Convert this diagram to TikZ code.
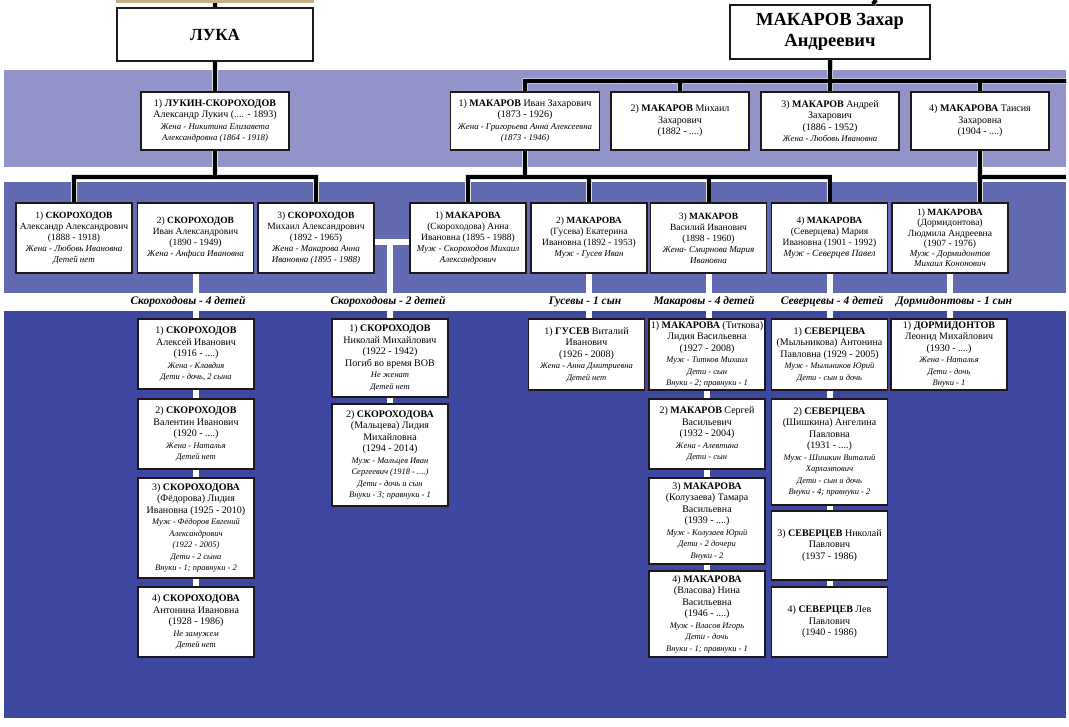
\documentclass[tikz,border=0pt]{standalone}
\usepackage{fontspec}
\setmainfont{Liberation Serif}
\definecolor{bandA}{RGB}{145,147,201}
\definecolor{bandB}{RGB}{98,106,178}
\definecolor{bandC}{RGB}{62,72,160}
\definecolor{edge}{RGB}{30,24,24}
\definecolor{photo}{RGB}{196,176,132}
\newcommand{\isize}{8}
\newcommand{\inote}[1]{{\fontsize{\isize}{\isize}\selectfont\itshape #1}}

\begin{document}
\begin{tikzpicture}[x=1pt,y=-1pt,
    pbox/.style={draw=edge, fill=white, line width=1.8pt, align=center, inner sep=1pt},
    head/.style={pbox, font=\fontsize{18.5}{21}\selectfont\bfseries},
    gen1/.style={pbox, minimum height=58, font=\fontsize{10}{11.5}\selectfont\def\isize{8.8}},
    gen2/.style={pbox, minimum width=116, minimum height=70, font=\fontsize{9.5}{11}\selectfont\def\isize{9}},
    gen3/.style={pbox, minimum width=116, font=\fontsize{10}{11.5}\selectfont\def\isize{8.5}},
    bus/.style={black, line width=4pt, preaction={draw=white!75!gray, line width=5.5pt}},
    wline/.style={white, line width=6pt},
    grp/.style={font=\fontsize{11.5}{13}\selectfont\bfseries\itshape}]
    \useasboundingbox (0,0) rectangle (1069,727);
    % bands
    \fill[bandA] (4,70) rectangle (1066,167);
    \fill[bandB] (4,182) rectangle (1066,293);
    \fill[bandC] (4,311) rectangle (1066,718);
    \fill[photo] (116,0) rectangle (314,3);

    % founders
    \node[head, minimum width=196, minimum height=53, font=\fontsize{17}{21}\selectfont\bfseries] (luka) at (215,34.5) {ЛУКА};
    \node[head, minimum width=200, minimum height=54] (zahar) at (830,32) {МАКАРОВ Захар\\Андреевич};
    \coordinate (photoB) at (215,3);
    \coordinate (ztop) at (876,0);

    % generation 1
    \node[gen1, minimum width=148] (lukin) at (215,121) {1) \textbf{ЛУКИН-СКОРОХОДОВ}\\Александр Лукич (.... - 1893)\\\inote{Жена - Никитина Елизавета}\\\inote{Александровна (1864 - 1918)}};
    \node[gen1, minimum width=149] (ivan) at (525,121) {1) \textbf{МАКАРОВ} Иван Захарович\\(1873 - 1926)\\\inote{Жена - Григорьева Анна Алексеевна}\\\inote{(1873 - 1946)}};
    \node[gen1, minimum width=138] (mihail) at (680,121) {2) \textbf{МАКАРОВ} Михаил\\Захарович\\(1882 - ....)};
    \node[gen1, minimum width=138] (andrey) at (830,121) {3) \textbf{МАКАРОВ} Андрей\\Захарович\\(1886 - 1952)\\\inote{Жена - Любовь Ивановна}};
    \node[gen1, minimum width=138] (taisia) at (980,121) {4) \textbf{МАКАРОВА} Таисия\\Захаровна\\(1904 - ....)};

    % generation 2
    \node[gen2] (s1) at (74,238) {1) \textbf{СКОРОХОДОВ}\\Александр Александрович\\(1888 - 1918)\\\inote{Жена - Любовь Ивановна}\\\inote{Детей нет}};
    \node[gen2] (s2) at (195.5,238) {2) \textbf{СКОРОХОДОВ}\\Иван Александрович\\(1890 - 1949)\\\inote{Жена - Анфиса Ивановна}};
    \node[gen2] (s3) at (316,238) {3) \textbf{СКОРОХОДОВ}\\Михаил Александрович\\(1892 - 1965)\\\inote{Жена - Макарова Анна}\\\inote{Ивановна (1895 - 1988)}};
    \node[gen2] (anna) at (468,238) {1) \textbf{МАКАРОВА}\\(Скороходова) Анна\\Ивановна (1895 - 1988)\\\inote{Муж - Скороходов Михаил}\\\inote{Александрович}};
    \node[gen2] (ekat) at (589,238) {2) \textbf{МАКАРОВА}\\(Гусева) Екатерина\\Ивановна (1892 - 1953)\\\inote{Муж - Гусев Иван}};
    \node[gen2] (vasil) at (708.5,238) {3) \textbf{МАКАРОВ}\\Василий Иванович\\(1898 - 1960)\\\inote{Жена- Смирнова Мария}\\\inote{Ивановна}};
    \node[gen2] (maria) at (829.5,238) {4) \textbf{МАКАРОВА}\\(Северцева) Мария\\Ивановна (1901 - 1992)\\\textit{Муж - Северцев Павел}};
    \node[gen2] (lyud) at (950,238) {1) \textbf{МАКАРОВА}\\[-0.7pt](Дормидонтова)\\[-0.7pt]Людмила Андреевна\\[-0.7pt](1907 - 1976)\\[-0.7pt]\inote{Муж - Дормидонтов}\\[-0.7pt]\inote{Михаил Кононович}};
    \coordinate (redgeA) at (1066,81);
    \coordinate (redgeB) at (1066,177);
    \coordinate (mar) at (390,242);

    % generation 3
    \node[gen3, minimum height=70] (aleksey) at (196,354) {1) \textbf{СКОРОХОДОВ}\\Алексей Иванович\\(1916 - ....)\\\inote{Жена - Клавдия}\\\inote{Дети - дочь, 2 сына}};
    \node[gen3, minimum height=70] (valent) at (196,434) {2) \textbf{СКОРОХОДОВ}\\Валентин Иванович\\(1920 - ....)\\\inote{Жена - Наталья}\\\inote{Детей нет}};
    \node[gen3, minimum height=100] (lidiaF) at (196,528) {3) \textbf{СКОРОХОДОВА}\\(Фёдорова) Лидия\\Ивановна (1925 - 2010)\\\inote{Муж - Фёдоров Евгений}\\\inote{Александрович}\\\inote{(1922 - 2005)}\\\inote{Дети - 2 сына}\\\inote{Внуки - 1; правнуки - 2}};
    \node[gen3, minimum height=70] (antonina) at (196,622) {4) \textbf{СКОРОХОДОВА}\\Антонина Ивановна\\(1928 - 1986)\\\inote{Не замужем}\\\inote{Детей нет}};

    \node[gen3, minimum height=78] (nikolay) at (390,358) {1) \textbf{СКОРОХОДОВ}\\Николай Михайлович\\(1922 - 1942)\\Погиб во время ВОВ\\\inote{Не женат}\\\inote{Детей нет}};
    \node[gen3, minimum height=102] (lidiaM) at (390,455) {2) \textbf{СКОРОХОДОВА}\\(Мальцева) Лидия\\Михайловна\\(1294 - 2014)\\\inote{Муж - Мальцев Иван}\\\inote{Сергеевич (1918 - ....)}\\\inote{Дети - дочь и сын}\\\inote{Внуки - 3; правнуки - 1}};

    \node[gen3, minimum height=71] (gusev) at (586.5,354.5) {1) \textbf{ГУСЕВ} Виталий\\Иванович\\(1926 - 2008)\\\inote{Жена - Анна Дмитриевна}\\\inote{Детей нет}};

    \node[gen3, minimum height=71] (lidiaT) at (707,354.5) {1) \textbf{МАКАРОВА} (Титкова)\\Лидия Васильевна\\(1927 - 2008)\\\inote{Муж - Титков Михаил}\\\inote{Дети - сын}\\\inote{Внуки - 2; правнуки - 1}};
    \node[gen3, minimum height=70] (sergey) at (707,434) {2) \textbf{МАКАРОВ} Сергей\\Васильевич\\(1932 - 2004)\\\inote{Жена - Алевтина}\\\inote{Дети - сын}};
    \node[gen3, minimum height=86] (tamara) at (707,521) {3) \textbf{МАКАРОВА}\\(Колузаева) Тамара\\Васильевна\\(1939 - ....)\\\inote{Муж - Колузаев Юрий}\\\inote{Дети - 2 дочери}\\\inote{Внуки - 2}};
    \node[gen3, minimum height=86] (nina) at (707,614) {4) \textbf{МАКАРОВА}\\(Власова) Нина\\Васильевна\\(1946 - ....)\\\inote{Муж - Власов Игорь}\\\inote{Дети - дочь}\\\inote{Внуки - 1; правнуки - 1}};

    \node[gen3, minimum height=71] (antoninaS) at (829.5,354.5) {1) \textbf{СЕВЕРЦЕВА}\\(Мыльникова) Антонина\\Павловна (1929 - 2005)\\\inote{Муж - Мыльников Юрий}\\\inote{Дети - сын и дочь}};
    \node[gen3, minimum height=106] (angelina) at (829.5,452) {2) \textbf{СЕВЕРЦЕВА}\\(Шишкина) Ангелина\\Павловна\\(1931 - ....)\\\inote{Муж - Шишкин Виталий}\\\inote{Харлампович}\\\inote{Дети - сын и дочь}\\\inote{Внуки - 4; правнуки - 2}};
    \node[gen3, minimum height=69] (nikolayS) at (829.5,545.5) {3) \textbf{СЕВЕРЦЕВ} Николай\\Павлович\\(1937 - 1986)};
    \node[gen3, minimum height=70] (lev) at (829.5,622) {4) \textbf{СЕВЕРЦЕВ} Лев\\Павлович\\(1940 - 1986)};

    \node[gen3, minimum height=71] (leonid) at (949,354.5) {1) \textbf{ДОРМИДОНТОВ}\\Леонид Михайлович\\(1930 - ....)\\\inote{Жена - Наталья}\\\inote{Дети - дочь}\\\inote{Внуки - 1}};

    % black lines
    \draw[bus] (photoB) -- (luka.north); \draw[bus] (ztop) -- ([xshift=43]zahar.north);
    \draw[bus] (luka.south) -- (lukin.north);
    \draw[bus] (lukin.south) -- ++(0,26) coordinate (lb) (s1.north) |- (lb) -| (s3.north);
    \draw[bus] (zahar.south) -- (andrey.north) (ivan.north) -- ++(0,-10) coordinate (zb) -- (redgeA) (mihail.north) -- (mihail.north |- zb) (taisia.north) -- (taisia.north |- zb);
    \draw[bus] (ivan.south) -- ++(0,26) coordinate (ib) (anna.north) |- (ib) -| (maria.north) (ekat.north) -- (ekat.north |- ib) (vasil.north) -- (vasil.north |- ib);
    \draw[bus] (taisia.south) -- (taisia.south |- lyud.north) (taisia.south |- redgeB) -- (redgeB);

    % white lines
    \draw[wline] (s2.south) -- (s2.south |- aleksey.north);
    \draw[wline] (s3.east |- mar) -- (anna.west |- mar) (mar) -- (nikolay.north);
    \draw[wline] (ekat.south) -- (ekat.south |- gusev.north); \draw[wline] (vasil.south) -- (vasil.south |- lidiaT.north);
    \draw[wline] (maria.south) -- (maria.south |- antoninaS.north); \draw[wline] (lyud.south) -- (lyud.south |- leonid.north);
    \draw[wline] (aleksey.south) -- (valent.north); \draw[wline] (valent.south) -- (lidiaF.north); \draw[wline] (lidiaF.south) -- (antonina.north);
    \draw[wline] (nikolay.south) -- (lidiaM.north);
    \draw[wline] (lidiaT.south) -- (sergey.north); \draw[wline] (sergey.south) -- (tamara.north); \draw[wline] (tamara.south) -- (nina.north);
    \draw[wline] (antoninaS.south) -- (angelina.north); \draw[wline] (angelina.south) -- (nikolayS.north); \draw[wline] (nikolayS.south) -- (lev.north);

    % family labels
    \node[grp] (gS4) at (188,302) {Скороходовы - 4 детей};
    \node[grp] (gS2) at (388,302) {Скороходовы - 2 детей};
    \node[grp] (gG) at (585,302) {Гусевы - 1 сын};
    \node[grp] (gM) at (704,302) {Макаровы - 4 детей};
    \node[grp] (gSv) at (832,302) {Северцевы - 4 детей};
    \node[grp] (gD) at (954,302) {Дормидонтовы - 1 сын};
\end{tikzpicture}
\end{document}
